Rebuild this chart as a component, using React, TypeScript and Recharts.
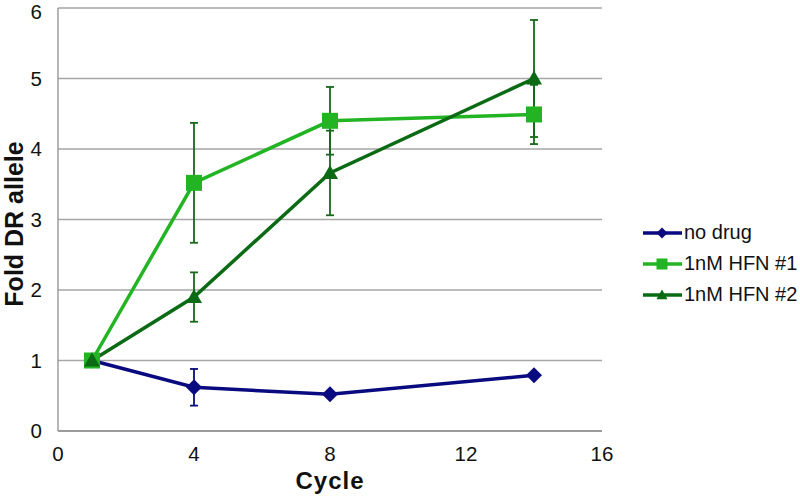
import React from 'react';
import { CartesianGrid, ErrorBar, Line, LineChart, XAxis, YAxis } from 'recharts';

const NAVY = '#0a0a80';
const LIGHT = '#22b422';
const DARK = '#0b6b14';
const ERR_GREEN = '#16691a';
const FONT = 'Liberation Sans, Arial, sans-serif';

const cycles = [1, 4, 8, 14];
const noDrug = [1, 0.62, 0.52, 0.79];
const noDrugErr = [0, 0.26, 0.04, 0.03];
const hfn1 = [1, 3.52, 4.4, 4.49];
const hfn1Err = [0, 0.85, 0.48, 0.42];
const hfn2 = [1, 1.9, 3.66, 5.0];
const hfn2Err = [0, 0.35, 0.6, 0.83];
const xTicks = [0, 4, 8, 12, 16];
const yTicks = [0, 1, 2, 3, 4, 5, 6];

const rows = cycles.map((c, i) => ({
  cycle: c,
  noDrug: noDrug[i],
  noDrugErr: noDrugErr[i],
  hfn1: hfn1[i],
  hfn1Err: hfn1Err[i],
  hfn2: hfn2[i],
  hfn2Err: hfn2Err[i],
}));

const legendItems = [
  { name: 'no drug', color: NAVY, shape: 'diamond' },
  { name: '1nM HFN #1', color: LIGHT, shape: 'square' },
  { name: '1nM HFN #2', color: DARK, shape: 'triangle' },
];

function Marker({ cx, cy, shape, color, s = 8 }: any) {
  if (cx == null || cy == null) return null;
  if (shape === 'diamond')
    return <polygon points={`${cx},${cy - s} ${cx + s},${cy} ${cx},${cy + s} ${cx - s},${cy}`} fill={color} />;
  if (shape === 'square') return <rect x={cx - s} y={cy - s} width={s * 2} height={s * 2} fill={color} />;
  return <polygon points={`${cx},${cy - s} ${cx + s},${cy + s * 0.75} ${cx - s},${cy + s * 0.75}`} fill={color} />;
}

const LegendBox = () => (
  <div style={{ position: 'absolute', left: 642, top: 217, fontFamily: FONT, fontSize: 20, color: '#111' }}>
    {legendItems.map((it) => (
      <div key={it.name} style={{ display: 'flex', alignItems: 'center', height: 31 }}>
        <svg width={41} height={16}>
          <line x1={1} y1={8} x2={40} y2={8} stroke={it.color} strokeWidth={3.5} />
          <Marker cx={20} cy={8} shape={it.shape} color={it.color} s={5.5} />
        </svg>
        <span style={{ marginLeft: 1 }}>{it.name}</span>
      </div>
    ))}
  </div>
);

export default function App() {
  const tick = { fontFamily: FONT, fontSize: 20.5, fill: '#111' };
  const title = { fontFamily: FONT, fontWeight: 700, fill: '#111' };
  return (
    <div style={{ position: 'absolute', left: 0, top: 0, width: 800, height: 496, background: '#fff' }}>
      <LineChart width={800} height={496} data={rows} margin={{ top: 8, right: 198, bottom: 0, left: 0 }}>
        <CartesianGrid vertical={false} stroke="#a6a6a6" strokeWidth={1.3} />
        <XAxis
          dataKey="cycle"
          type="number"
          domain={[0, 16]}
          ticks={xTicks}
          tickLine={false}
          axisLine={{ stroke: '#909090', strokeWidth: 1.3 }}
          tick={tick}
          tickMargin={9}
          height={65}
          label={{
            value: 'Cycle',
            content: () => (
              <text x={330} y={489} textAnchor="middle" style={{ ...title, fontSize: 24, letterSpacing: 1 }}>
                Cycle
              </text>
            ),
          }}
        />
        <YAxis
          type="number"
          domain={[0, 6]}
          ticks={yTicks}
          tickLine={false}
          axisLine={{ stroke: '#909090', strokeWidth: 1.3 }}
          tick={tick}
          tickMargin={10}
          width={58}
          label={{
            value: 'Fold DR allele',
            content: () => (
              <text x={23} y={224} transform="rotate(-90 23 224)" textAnchor="middle" style={{ ...title, fontSize: 25 }}>
                Fold DR allele
              </text>
            ),
          }}
        />
        <Line
          dataKey="noDrug"
          stroke={NAVY}
          strokeWidth={3.5}
          isAnimationActive={false}
          dot={(p: any) => <Marker key={p.index} cx={p.cx} cy={p.cy} shape="diamond" color={NAVY} s={8} />}
          activeDot={false}
        >
          <ErrorBar dataKey="noDrugErr" width={4} stroke={NAVY} strokeWidth={1.8} direction="y" />
        </Line>
        <Line
          dataKey="hfn1"
          stroke={LIGHT}
          strokeWidth={3.5}
          isAnimationActive={false}
          dot={(p: any) => <Marker key={p.index} cx={p.cx} cy={p.cy} shape="square" color={LIGHT} s={8} />}
          activeDot={false}
        >
          <ErrorBar dataKey="hfn1Err" width={4} stroke={ERR_GREEN} strokeWidth={1.8} direction="y" />
        </Line>
        <Line
          dataKey="hfn2"
          stroke={DARK}
          strokeWidth={3.5}
          isAnimationActive={false}
          dot={(p: any) => <Marker key={p.index} cx={p.cx} cy={p.cy} shape="triangle" color={DARK} s={8} />}
          activeDot={false}
        >
          <ErrorBar dataKey="hfn2Err" width={4} stroke={ERR_GREEN} strokeWidth={1.8} direction="y" />
        </Line>
      </LineChart>
      <LegendBox />
    </div>
  );
}
